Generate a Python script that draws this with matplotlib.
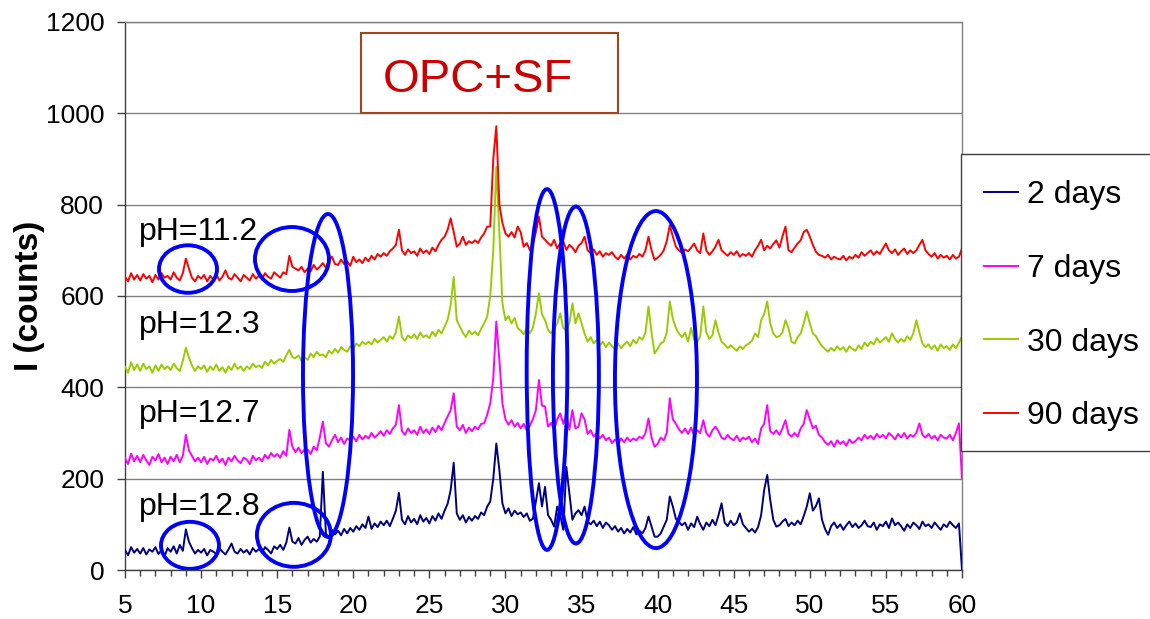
import numpy as np
import matplotlib
matplotlib.use("Agg")
import matplotlib.pyplot as plt
from matplotlib.patches import Ellipse, Rectangle

plt.rcParams["font.family"] = ["Liberation Sans", "DejaVu Sans"]

# --- data (2-theta step 0.2 deg, 5..60) ---
two_theta = np.linspace(5, 60, 276)

days_2 = [
    44, 32, 50, 38, 46,  36, 48, 34, 45, 40,  50, 35, 44, 30, 48,  40, 52, 36, 55, 42,
    89, 62, 48, 36, 44,  38, 46, 32, 44, 40,  36, 48, 40, 34, 45,  58, 40, 36, 46, 38,
    44, 34, 48, 40, 46,  38, 50, 44, 36, 52,  46, 55, 44, 60, 93,  62, 58, 70, 55, 66,
    73, 60, 68, 62, 73,  215, 80, 70, 88, 78,  86, 76, 90, 80, 92,  84, 96, 88, 100, 92,
    117, 90, 102, 94, 106,  98, 108, 96, 112, 130,  169, 110, 100, 118, 104,
    112, 100, 120, 106, 114,  102, 118, 108, 124, 112,  130, 145, 175, 235, 124,
    110, 120, 104, 116, 108,  118, 112, 126, 120, 139,  150, 200, 277, 219, 146,
    124, 135, 118, 130, 122,  126, 116, 124, 108, 112,  150, 190, 139, 182, 120,
    110, 95, 139, 120, 88,  226, 168, 110, 124, 131,  120, 139, 106, 100, 108,
    96, 106, 92, 104, 98,  88, 96, 84, 92, 80,  90, 82, 94, 78, 86,
    80, 92, 117, 95, 73,  73, 80, 95, 110, 161,  139, 112, 105, 98, 104,
    88, 102, 94, 117, 100,  88, 104, 96, 110, 98,  120, 146, 104, 96, 108,
    98, 104, 124, 100, 92,  84, 90, 82, 94, 120,  175, 208, 153, 110, 95,
    98, 106, 112, 96, 104,  98, 108, 100, 118, 139,  168, 130, 140, 157, 110,
    90, 77, 96, 104, 92,  100, 88, 98, 106, 94,  102, 92, 98, 108, 96,
    94, 104, 88, 100, 96,  106, 92, 113, 98, 104,  96, 86, 100, 92, 104,
    98, 90, 106, 96, 100,  92, 104, 96, 88, 100,  94, 106, 98, 92, 102,
    0,
]

days_7 = [
    245, 232, 255, 238, 250,  236, 252, 240, 230, 248,  240, 254, 236, 246, 232,  248, 238, 252, 236, 250,
    296, 262, 250, 238, 246,  236, 248, 232, 244, 240,  250, 236, 244, 230, 246,  238, 250, 240, 234, 246,
    242, 232, 250, 240, 246,  238, 252, 244, 256, 248,  254, 246, 260, 250, 307,  270, 258, 268, 256, 264,
    264, 254, 270, 262, 290,  325, 278, 270, 284, 296,  280, 290, 276, 288, 284,  292, 282, 296, 286, 294,
    288, 300, 290, 296, 304,  294, 306, 298, 310, 318,  361, 304, 296, 310, 300,
    306, 296, 314, 300, 308,  298, 312, 302, 316, 306,  322, 336, 350, 387, 314,
    306, 318, 300, 312, 304,  314, 308, 320, 321, 340,  365, 420, 544, 460, 365,
    330, 318, 328, 314, 322,  310, 320, 306, 316, 330,  350, 416, 360, 358, 314,
    322, 307, 330, 343, 320,  343, 307, 350, 310, 314,  343, 330, 298, 306, 292,
    300, 288, 296, 284, 290,  278, 286, 276, 288, 280,  290, 282, 288, 284, 292,
    288, 300, 332, 290, 270,  276, 290, 284, 300, 376,  330, 320, 308, 300, 310,
    298, 312, 294, 306, 300,  328, 300, 292, 306, 314,  304, 290, 286, 296, 288,
    284, 294, 282, 290, 286,  292, 280, 288, 276, 310,  320, 361, 304, 298, 306,
    296, 310, 328, 298, 292,  300, 292, 310, 320, 350,  330, 310, 316, 296, 290,
    280, 274, 282, 270, 284,  276, 282, 272, 286, 278,  282, 290, 284, 296, 288,
    294, 286, 298, 290, 296,  288, 300, 294, 286, 298,  290, 300, 288, 296, 292,
    300, 321, 296, 290, 298,  288, 294, 284, 296, 290,  288, 296, 284, 300, 321,
    200,
]

days_30 = [
    445, 432, 455, 438, 450,  436, 452, 440, 446, 432,  448, 436, 450, 440, 446,  438, 452, 442, 436, 458,
    487, 465, 448, 436, 446,  440, 448, 434, 446, 438,  450, 436, 444, 432, 446,  438, 452, 440, 446, 436,
    446, 440, 452, 444, 448,  442, 456, 448, 460, 452,  458, 462, 456, 470, 482,  466, 464, 470, 458, 466,
    460, 474, 466, 478, 470,  472, 466, 480, 474, 484,  476, 488, 482, 478, 490,  484, 496, 490, 500, 494,
    500, 494, 506, 498, 504,  510, 500, 512, 506, 520,  555, 510, 502, 514, 508,
    516, 506, 520, 510, 514,  508, 522, 512, 526, 518,  533, 548, 580, 642, 547,
    533, 520, 510, 524, 516,  522, 514, 528, 540, 555,  600, 700, 883, 740, 584,
    547, 556, 540, 552, 530,  524, 516, 530, 518, 530,  562, 606, 560, 547, 526,
    518, 528, 540, 562, 530,  524, 540, 584, 540, 562,  540, 518, 500, 510, 496,
    504, 492, 500, 488, 498,  490, 484, 496, 486, 494,  500, 490, 504, 496, 510,
    504, 520, 577, 520, 474,  484, 496, 500, 520, 588,  550, 530, 518, 510, 520,
    500, 530, 504, 498, 512,  577, 520, 506, 514, 547,  520, 500, 494, 486, 492,
    486, 480, 490, 484, 492,  496, 502, 518, 510, 547,  560, 588, 540, 518, 510,
    512, 520, 547, 530, 500,  496, 510, 518, 540, 566,  540, 518, 512, 500, 490,
    484, 478, 486, 480, 490,  482, 488, 478, 490, 484,  480, 492, 484, 498, 490,
    500, 494, 508, 498, 504,  510, 500, 518, 506, 498,  506, 500, 512, 504, 518,
    547, 520, 496, 488, 494,  484, 492, 480, 494, 486,  490, 482, 494, 486, 498,
    511,
]

days_90 = [
    642, 632, 650, 636, 646,  634, 648, 638, 644, 630,  646, 636, 650, 640, 644,  636, 652, 640, 634, 650,
    682, 660, 640, 632, 644,  638, 646, 632, 644, 636,  648, 634, 642, 656, 640,  636, 648, 640, 632, 646,
    640, 634, 648, 638, 644,  636, 650, 642, 638, 652,  646, 640, 652, 648, 688,  664, 660, 656, 664, 652,
    660, 654, 668, 658, 664,  672, 662, 676, 686, 670,  668, 680, 670, 676, 666,  686, 674, 680, 672, 684,
    676, 688, 680, 692, 686,  694, 688, 698, 704, 712,  745, 700, 690, 702, 694,
    698, 688, 704, 694, 700,  692, 706, 698, 712, 723,  730, 745, 770, 740, 708,
    714, 730, 712, 720, 716,  722, 716, 728, 737, 752,  752, 900, 972, 800, 760,
    737, 730, 740, 728, 752,  740, 708, 716, 701, 712,  740, 774, 730, 723, 716,
    710, 723, 704, 716, 720,  701, 712, 706, 696, 710,  716, 730, 700, 694, 702,
    690, 698, 686, 694, 690,  696, 686, 680, 690, 682,  690, 680, 688, 684, 692,
    686, 700, 730, 700, 679,  684, 690, 700, 720, 755,  730, 708, 700, 694, 702,
    698, 706, 715, 700, 694,  737, 700, 690, 698, 708,  723, 700, 694, 688, 696,
    690, 698, 686, 692, 688,  694, 686, 700, 710, 723,  700, 710, 704, 714, 722,
    706, 730, 752, 700, 696,  706, 715, 722, 740, 745,  730, 712, 697, 690, 688,
    684, 690, 680, 686, 682,  680, 688, 678, 686, 682,  690, 684, 696, 688, 694,
    700, 690, 698, 692, 704,  715, 700, 694, 702, 690,  698, 704, 692, 700, 694,
    700, 712, 723, 700, 692,  686, 694, 682, 690, 684,  688, 680, 690, 682, 686,
    704,
]

series_labels = ["2 days", "7 days", "30 days", "90 days"]
series_colors = ["#000080", "#ff00ff", "#99cc00", "#ff0000"]

ph_labels = ["pH=11.2", "pH=12.3", "pH=12.7", "pH=12.8"]
ph_y = [723, 519, 325, 120]

# highlight ellipses: centre x, centre y, width (deg), height (counts)
ell_x = [9.14, 15.97, 18.34, 9.27, 16.1, 32.73, 34.63, 39.89]
ell_y = [659, 681, 426, 54, 77, 439, 427, 417]
ell_w = [3.81, 4.86, 3.29, 3.81, 4.86, 2.67, 3.02, 5.39]
ell_h = [104, 140, 707, 103, 140, 790, 738, 738]

fig = plt.figure(figsize=(11.5, 6.19), dpi=100)
ax = fig.add_axes([125 / 1150, 1 - 570 / 619, 837 / 1150, 548 / 619])

lines = []
for vals, lab, col in zip([days_2, days_7, days_30, days_90], series_labels, series_colors):
    ln, = ax.plot(two_theta, vals, color=col, lw=1.4, label=lab, zorder=3)
    lines.append(ln)

ax.set_xlim(5, 60)
ax.set_ylim(0, 1200)
ax.set_xticks(np.arange(5, 61, 5))
ax.set_xticks(np.arange(5, 61, 1), minor=True)
ax.set_yticks(np.arange(0, 1201, 200))
ax.grid(axis="y", color="#808080", lw=1.0, zorder=1)
ax.set_axisbelow(True)

for side in ["left", "bottom"]:
    ax.spines[side].set_color("#404040")
    ax.spines[side].set_linewidth(1.0)
for side in ["top", "right"]:
    ax.spines[side].set_color("#808080")
    ax.spines[side].set_linewidth(1.0)

ax.tick_params(axis="both", which="major", direction="out", length=6, width=1,
               color="#404040", labelsize=19, labelcolor="black")
ax.tick_params(axis="x", which="minor", direction="out", length=4, width=1, color="#404040")
ax.tick_params(axis="y", which="major", pad=9)
ax.tick_params(axis="x", which="major", pad=11)

ax.set_ylabel("I (counts)", fontsize=24, fontweight="bold")
ax.yaxis.set_label_coords(-0.096, 0.5)

for lab, yv in zip(ph_labels, ph_y):
    ax.text(5.95, yv, lab, fontsize=23, color="black", va="baseline", ha="left", zorder=4)

for cx, cy, w, h in zip(ell_x, ell_y, ell_w, ell_h):
    ax.add_patch(Ellipse((cx, cy), w, h, fill=False, edgecolor="#0000ff", lw=2.8, zorder=5))

# title box
ax.add_patch(Rectangle((20.49, 1001), 37.38 - 20.49, 1175 - 1001, fill=True,
                       facecolor="white", edgecolor="#a0461e", lw=1.5, zorder=4))
ax.text(21.94, 1047, "OPC+SF", fontsize=34, color="#cc0000", va="baseline", ha="left", zorder=6)

# legend box (runs off the right edge like the original)
fig.patches.append(Rectangle((961 / 1150, 1 - 451 / 619), 0.3, (451 - 154) / 619,
                             transform=fig.transFigure, facecolor="white",
                             edgecolor="#404040", lw=1.0, zorder=10))
leg = fig.legend(lines, series_labels, loc="upper left",
                 bbox_to_anchor=(984 / 1150, 1 - 180 / 619), frameon=False,
                 fontsize=23, handlelength=1.05, handletextpad=0.3,
                 labelspacing=1.37, borderpad=0, borderaxespad=0)
for h in leg.get_lines():
    h.set_linewidth(1.4)
leg.set_zorder(11)

fig.savefig("out.png", dpi=100)
